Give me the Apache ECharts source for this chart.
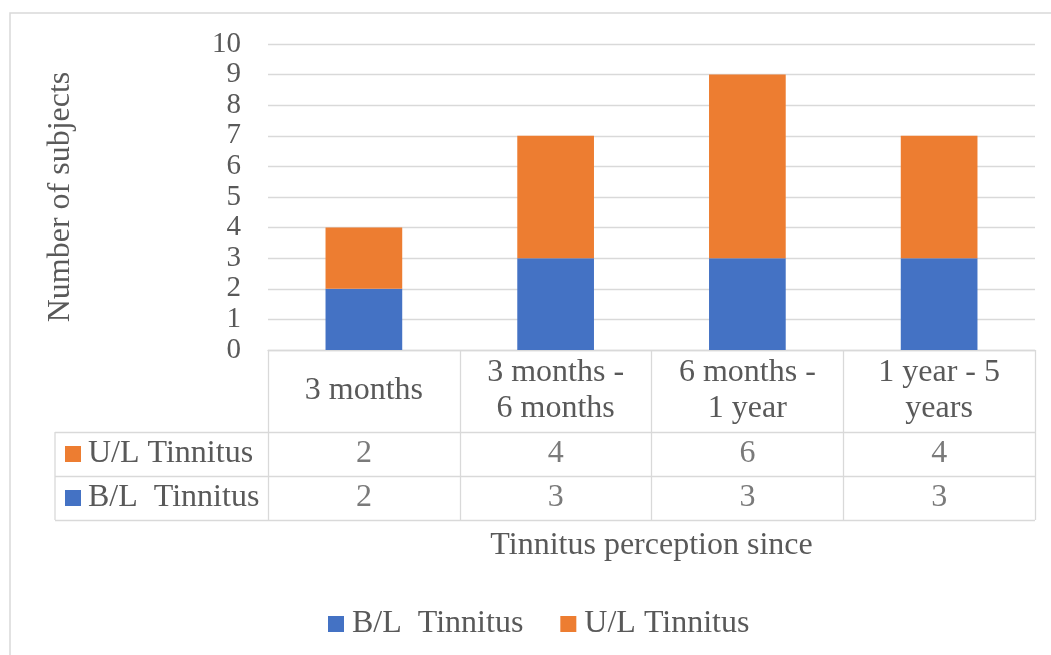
<!DOCTYPE html>
<html>
<head>
<meta charset="utf-8">
<script src="https://cdn.jsdelivr.net/npm/echarts@6/dist/echarts.min.js"></script>
<style>
  html, body { margin: 0; padding: 0; background: #fff; }
  #chart { width: 1051px; height: 655px; }
</style>
</head>
<body>
<div id="chart"></div>
<script>
// Tinnitus duration groups and subject counts per laterality
const categories = ['3 months', '3 months -\n6 months', '6 months -\n1 year', '1 year - 5\nyears'];
const bilateral = [2, 3, 3, 3];
const unilateral = [2, 4, 6, 4];
const seriesNames = ['B/L  Tinnitus', 'U/L Tinnitus'];
const yTicks = { min: 0, max: 10, interval: 1 };

const FONT = "'Liberation Serif', 'Times New Roman', serif";
const TEXT = '#595959';
const LINE = '#d9d9d9';
const BLUE = '#4472C4';
const ORANGE = '#ED7D31';
const FS = 32;
const FS_TICK = 29;

// layout of the plot and the data table beneath it
const plotLeft = 268, plotRight = 16, plotTop = 44, plotBottomY = 350;
const tableTop = 432, tableBottom = 520, tableLeft = 55;

const tableRows = [seriesNames[1], seriesNames[0]];
const tableValues = [unilateral, bilateral];
const rowColors = [ORANGE, BLUE];

const tableData = [];
tableRows.forEach((row, r) => {
  tableValues[r].forEach((v, c) => tableData.push([c, row, v]));
});

const chart = echarts.init(document.getElementById('chart'));
chart.setOption({
  animation: false,
  backgroundColor: '#fff',
  textStyle: { fontFamily: FONT, color: TEXT },
  grid: [
    { left: plotLeft, right: plotRight, top: plotTop, bottom: 655 - plotBottomY },
    { left: plotLeft, right: plotRight, top: tableTop, bottom: 655 - tableBottom }
  ],
  legend: {
    data: seriesNames,
    left: 328,
    top: 608,
    padding: 0,
    icon: 'rect',
    itemWidth: 16,
    itemHeight: 16,
    itemGap: 37,
    textStyle: { fontFamily: FONT, fontSize: FS, color: TEXT, padding: [0, 0, 0, 3] }
  },
  xAxis: [
    {
      type: 'category',
      gridIndex: 0,
      data: categories,
      axisLine: { lineStyle: { color: LINE, width: 1.3 } },
      axisTick: { show: true, length: tableBottom - plotBottomY, lineStyle: { color: LINE, width: 1.3 } },
      axisLabel: {
        fontFamily: FONT, fontSize: FS, color: TEXT, lineHeight: 36,
        margin: (tableTop - plotBottomY) / 2, verticalAlign: 'middle', align: 'center',
        interval: 0
      }
    },
    {
      type: 'category',
      gridIndex: 1,
      data: categories,
      axisLine: { show: false },
      axisTick: { show: false },
      axisLabel: { show: false },
      name: 'Tinnitus perception since',
      nameLocation: 'middle',
      nameGap: 10,
      nameTextStyle: { fontFamily: FONT, fontSize: FS, color: TEXT }
    }
  ],
  yAxis: [
    {
      type: 'value',
      gridIndex: 0,
      min: yTicks.min, max: yTicks.max, interval: yTicks.interval,
      axisLine: { show: false },
      axisTick: { show: false },
      splitLine: { lineStyle: { color: LINE, width: 1.3 } },
      axisLabel: { fontFamily: FONT, fontSize: FS_TICK, color: TEXT, margin: 27 },
      name: 'Number of subjects',
      nameLocation: 'middle',
      nameGap: 191,
      nameRotate: 90,
      nameTextStyle: { fontFamily: FONT, fontSize: FS, color: TEXT }
    },
    {
      type: 'category',
      gridIndex: 1,
      data: tableRows,
      inverse: true,
      axisLine: { show: false },
      axisTick: { show: true, length: plotLeft - tableLeft, lineStyle: { color: LINE, width: 1.3 } },
      splitLine: { show: true, lineStyle: { color: LINE, width: 1.3 } },
      axisLabel: {
        align: 'left',
        margin: plotLeft - 65,
        fontFamily: FONT, fontSize: FS, color: TEXT,
        formatter: (v, i) => '{s' + i + '|}{t|' + v + '}',
        rich: {
          s0: { width: 16, height: 16, backgroundColor: rowColors[0] },
          s1: { width: 16, height: 16, backgroundColor: rowColors[1] },
          t: { fontFamily: FONT, fontSize: FS, color: TEXT, padding: [0, 0, 0, 7] }
        }
      }
    }
  ],
  graphic: [
    { type: 'rect', shape: { x: 10, y: 13, width: 1060, height: 660 }, style: { fill: 'none', stroke: LINE, lineWidth: 1.5 }, silent: true },
    { type: 'line', shape: { x1: tableLeft, y1: tableTop, x2: tableLeft, y2: tableBottom }, style: { stroke: LINE, lineWidth: 1.3 }, silent: true }
  ],
  series: [
    {
      name: seriesNames[0], type: 'bar', stack: 'total',
      xAxisIndex: 0, yAxisIndex: 0,
      barCategoryGap: '60%',
      itemStyle: { color: BLUE },
      data: bilateral
    },
    {
      name: seriesNames[1], type: 'bar', stack: 'total',
      xAxisIndex: 0, yAxisIndex: 0,
      barCategoryGap: '60%',
      itemStyle: { color: ORANGE },
      data: unilateral
    },
    {
      type: 'scatter',
      xAxisIndex: 1, yAxisIndex: 1,
      symbolSize: 0,
      silent: true,
      data: tableData,
      label: {
        show: true, position: 'inside',
        fontFamily: FONT, fontSize: FS, color: TEXT,
        formatter: p => String(p.value[2])
      }
    }
  ]
});
</script>
</body>
</html>
